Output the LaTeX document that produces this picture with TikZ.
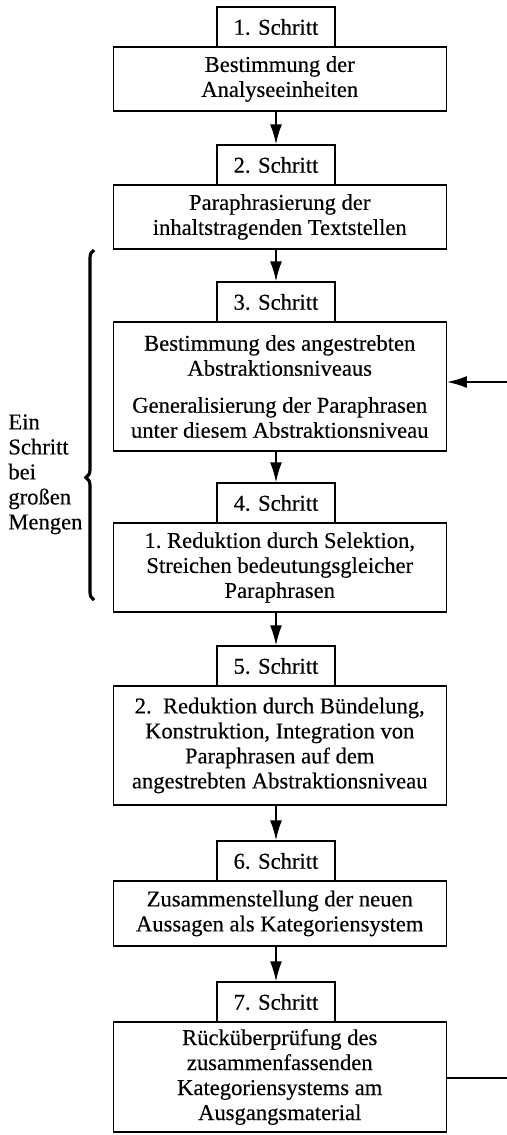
\documentclass[tikz,border=0pt]{standalone}
\usepackage{fontspec}
\setmainfont{Liberation Serif}[FakeBold=0.3]
\usepackage{tikz}
\usetikzlibrary{arrows.meta, decorations.pathreplacing}

\begin{document}
\begin{tikzpicture}[x=0.5pt, y=-0.5pt,
    every node/.style={font=\fontsize{11.3}{12.5}\selectfont},
    stepbox/.style={draw, line width=0.7pt, fill=white, minimum width=59pt, minimum height=20pt, inner sep=0pt},
    mainbox/.style={draw, line width=0.7pt, minimum width=166.5pt, align=center, inner sep=2pt},
    arr/.style={-{Latex[length=10pt, width=6pt]}, line width=0.8pt}]
            \useasboundingbox (0,0) rectangle (507,1135);

            % Nodes
            \node[mainbox, minimum height=32pt] (M1) at (279.75, 79) {Bestimmung der\\Analyseeinheiten};
            \node[mainbox, minimum height=32pt] (M2) at (279.75, 217) {Paraphrasierung der\\inhaltstragenden Textstellen};
            \node[mainbox, minimum height=64.5pt] (M3) at (279.75, 386.5) {Bestimmung des angestrebten\\Abstraktionsniveaus\\[6pt]Generalisierung der Paraphrasen\\unter diesem Abstraktionsniveau};
            \node[mainbox, minimum height=44.5pt] (M4) at (279.75, 567.5) {1.~Reduktion durch Selektion,\\Streichen bedeutungsgleicher\\Paraphrasen};
            \node[mainbox, minimum height=59.5pt] (M5) at (279.75, 745.5) {2.~~Reduktion durch Bündelung,\\Konstruktion, Integration von\\Paraphrasen auf dem\\angestrebten Abstraktionsniveau};
            \node[mainbox, minimum height=32.5pt] (M6) at (279.75, 913.5) {Zusammenstellung der neuen\\Aussagen als Kategoriensystem};
            \node[mainbox, minimum height=55pt] (M7) at (279.75, 1077) {Rücküberprüfung des\\zusammenfassenden\\Kategoriensystems am\\Ausgangsmaterial};

            \node[stepbox] (S1) at (276, 27) {1. Schritt};
            \node[stepbox] (S2) at (276, 165) {2. Schritt};
            \node[stepbox] (S3) at (276, 302) {3. Schritt};
            \node[stepbox] (S4) at (276, 503) {4. Schritt};
            \node[stepbox] (S5) at (276, 666) {5. Schritt};
            \node[stepbox] (S6) at (276, 861) {6. Schritt};
            \node[stepbox] (S7) at (276, 1002) {7. Schritt};

            \node[anchor=north west, align=left, inner sep=0pt] (Hint) at (8, 414) {Ein\\Schritt\\bei\\großen\\Mengen};

            \coordinate (FeedIn) at (507, 382);
            \coordinate (FeedOut) at (507, 1078);
            \coordinate (BraceLow) at (94, 600);
            \coordinate (BraceHigh) at (94, 250);

            % Arrows
            \draw[arr] (S2.north |- M1.south) -- (S2.north);
            \draw[arr] (S3.north |- M2.south) -- (S3.north);
            \draw[arr] (S4.north |- M3.south) -- (S4.north);
            \draw[arr] (S5.north |- M4.south) -- (S5.north);
            \draw[arr] (S6.north |- M5.south) -- (S6.north);
            \draw[arr] (S7.north |- M6.south) -- (S7.north);

            \draw[arr] (FeedIn) -- (FeedIn -| M3.east);
            \draw[line width=0.8pt] (FeedOut -| M7.east) -- (FeedOut);

            % Brace
            \draw[line width=1.6pt, decorate, decoration={brace, amplitude=4pt, aspect=0.35}] (BraceLow) -- (BraceHigh);
            \end{tikzpicture}
\end{document}
